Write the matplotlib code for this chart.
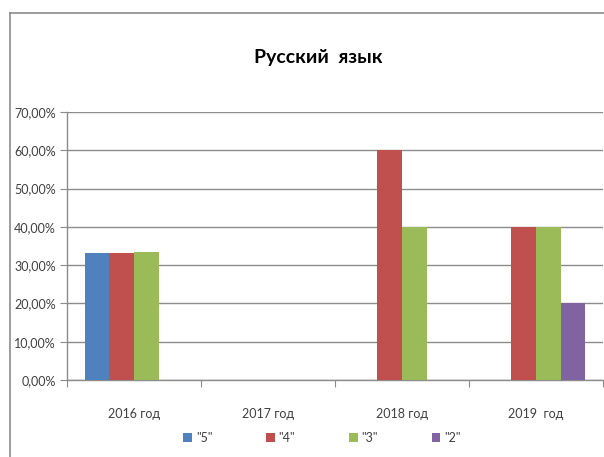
import matplotlib
matplotlib.use("Agg")
import matplotlib.pyplot as plt
from matplotlib.lines import Line2D
import numpy as np

plt.rcParams['font.family'] = ['Lato', 'DejaVu Sans']

categories = ["2016 год", "2017 год", "2018 год", "2019  год"]
series_names = ['"5"', '"4"', '"3"', '"2"']
v5 = [33.3, 0, 0, 0]
v4 = [33.3, 0, 60.0, 40.0]
v3 = [33.5, 0, 40.0, 40.0]
v2 = [0, 0, 0, 20.0]
values = [v5, v4, v3, v2]
colors = ["#4F81BD", "#C0504D", "#9BBB59", "#8064A2"]
yticks = [0, 10, 20, 30, 40, 50, 60, 70]

W, H = 604, 457
fig = plt.figure(figsize=(W / 100, H / 100), dpi=100)
ax = fig.add_axes([67 / W, 1 - 380 / H, (603 - 67) / W, (380 - 112) / H])

x = np.arange(len(categories))
bw = 0.183
for i, (vals, c, name) in enumerate(zip(values, colors, series_names)):
    ax.bar(x + (i - 1.5) * bw, vals, width=bw, color=c, label=name, zorder=3)

ax.set_xlim(-0.5, len(categories) - 0.5)
ax.set_ylim(0, 70)
ax.set_yticks(yticks)
ax.set_yticklabels([f"{t:.2f}".replace(".", ",") + "%" for t in yticks],
                   fontsize=9, color="#404040")
ax.yaxis.grid(True, color="#8c8c8c", linewidth=1, zorder=0)
ax.set_xticks(np.arange(len(categories) + 1) - 0.5, minor=False)
ax.set_xticklabels([])
ax.set_xticks(x, minor=True)
ax.set_xticklabels(categories, minor=True, fontsize=9, color="#404040")
ax.tick_params(axis="x", which="minor", length=0, pad=20)
ax.tick_params(axis="x", which="major", length=5, color="#8c8c8c", direction="out")
ax.tick_params(axis="y", length=5, color="#8c8c8c", direction="out", pad=3)
for s in ["top", "right"]:
    ax.spines[s].set_visible(False)
for s in ["left", "bottom"]:
    ax.spines[s].set_color("#8c8c8c")
    ax.spines[s].set_linewidth(1)

fig.text(318 / W, 1 - 58 / H, "Русский  язык", ha="center", va="center",
         fontsize=14, fontweight="bold", color="#000000")

leg = fig.legend(loc="center", bbox_to_anchor=(322 / W, 1 - 438 / H), ncol=4,
                 frameon=False, fontsize=9, handlelength=0.7, handleheight=0.7,
                 handletextpad=0.3, columnspacing=4.3, labelcolor="#404040")

fig.add_artist(Line2D([10 / W, 1], [1 - 13 / H, 1 - 13 / H], color="#8c8c8c",
                      linewidth=1.2, transform=fig.transFigure))
fig.add_artist(Line2D([10 / W, 10 / W], [0, 1 - 13 / H], color="#8c8c8c",
                      linewidth=1.2, transform=fig.transFigure))

fig.savefig("out.png", dpi=100)
